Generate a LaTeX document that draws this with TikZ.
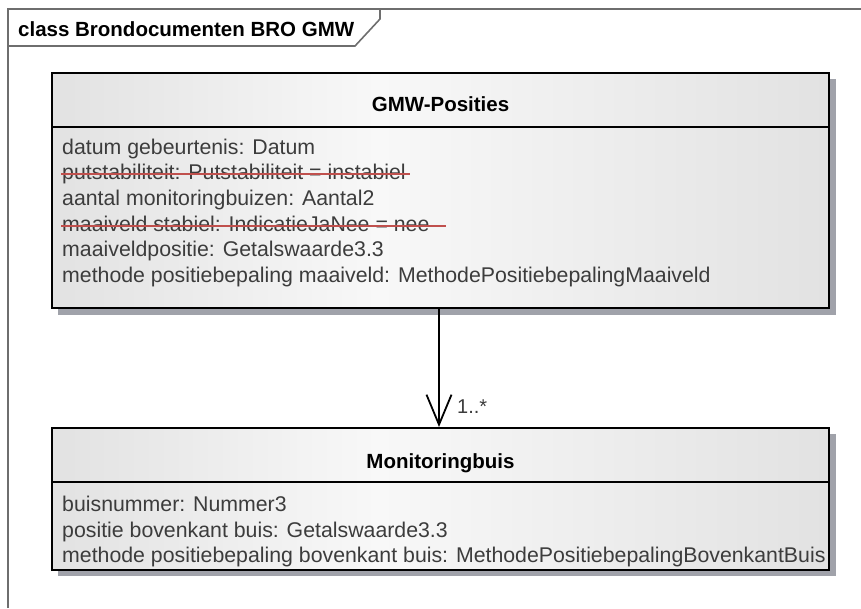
\documentclass[tikz,border=0pt]{standalone}
\usepackage{fontspec}
\setmainfont{Liberation Sans}
\usetikzlibrary{arrows.meta}
\definecolor{framegray}{RGB}{110,110,110}
\definecolor{shadowgray}{RGB}{160,162,170}
\definecolor{attrgray}{RGB}{60,60,60}
\definecolor{strikered}{RGB}{192,80,77}
\definecolor{boxedge}{RGB}{226,226,226}
\definecolor{boxlight}{RGB}{248,248,248}
\pgfdeclarehorizontalshading{boxshade}{100bp}{color(0bp)=(boxedge); color(25bp)=(boxedge); color(46bp)=(boxlight); color(75bp)=(boxedge); color(100bp)=(boxedge)}
\tikzset{
  umlbox/.style={draw=black, line width=2pt, shading=boxshade, inner sep=0pt},
  shadowbox/.style={fill=shadowgray, draw=none},
  attr/.style={anchor=base west, inner sep=0pt, text=attrgray, font=\fontsize{21.3}{25}\selectfont},
  boxtitle/.style={anchor=base, inner sep=0pt, text=black, font=\bfseries\fontsize{20.5}{24}\selectfont},
  strike/.style={color=strikered, line width=2pt},
  framestyle/.style={draw=framegray, line width=1.6pt},
  divider/.style={draw=black, line width=1.6pt},
  assoc/.style={draw=black, line width=1.8pt, -{Straight Barb[length=30pt, width=25pt, line width=1.8pt]}},
}
\begin{document}
\begin{tikzpicture}[x=1pt, y=-1pt]
\useasboundingbox (0,0) rectangle (861,608);
% frame
\draw[framestyle] (8,608) -- (8,9) -- (861,9);
\draw[framestyle] (8,46) -- (355,46) -- (380,19) -- (380,9);
\node[anchor=base west, inner sep=0pt, font=\bfseries\fontsize{20.5}{24}\selectfont] (frametitle) at (18,36) {class Brondocumenten BRO GMW};
% shadows
\fill[shadowbox] (58,79) rectangle (836,315);
\fill[shadowbox] (58,434) rectangle (836,576);
% boxes
\node[umlbox, minimum width=777pt, minimum height=235pt] (gmw) at (440.5,190.5) {};
\draw[divider] (gmw.west |- 0,127) -- (gmw.east |- 0,127);
\node[umlbox, minimum width=777pt, minimum height=142pt] (mon) at (440.5,499) {};
\draw[divider] (mon.west |- 0,482) -- (mon.east |- 0,482);
% titles
\node[boxtitle] (gmwtitle) at (440.5,111) {GMW-Posities};
\node[boxtitle] (montitle) at (440.5,468) {Monitoringbuis};
% attributes box 1
\node[attr] (a1) at (62,154) {datum gebeurtenis: Datum};
\node[attr] (a2) at (62,179.7) {putstabiliteit: Putstabiliteit = instabiel};
\node[attr] (a3) at (62,205.4) {aantal monitoringbuizen: Aantal2};
\node[attr] (a4) at (62,231.1) {maaiveld stabiel: IndicatieJaNee = nee};
\node[attr] (a5) at (62,256.8) {maaiveldpositie: Getalswaarde3.3};
\node[attr] (a6) at (62,282.5) {methode positiebepaling maaiveld: MethodePositiebepalingMaaiveld};
\draw[strike] ([xshift=-1pt, yshift=6pt]a2.base west) -- ([xshift=4pt, yshift=6pt]a2.base east);
\draw[strike] ([xshift=-1pt, yshift=5.5pt]a4.base west) -- ([xshift=16pt, yshift=5.5pt]a4.base east);
% attributes box 2
\node[attr] (b1) at (62,511.5) {buisnummer: Nummer3};
\node[attr] (b2) at (62,537) {positie bovenkant buis: Getalswaarde3.3};
\node[attr] (b3) at (62,562.5) {methode positiebepaling bovenkant buis: MethodePositiebepalingBovenkantBuis};
% association
\draw[assoc] ([xshift=-1.5pt]gmw.south) -- ([xshift=-1.5pt]mon.north);
\node[anchor=base west, inner sep=0pt, text=attrgray, font=\fontsize{20}{24}\selectfont] (mult) at (457,413) {1..*};
\end{tikzpicture}
\end{document}
